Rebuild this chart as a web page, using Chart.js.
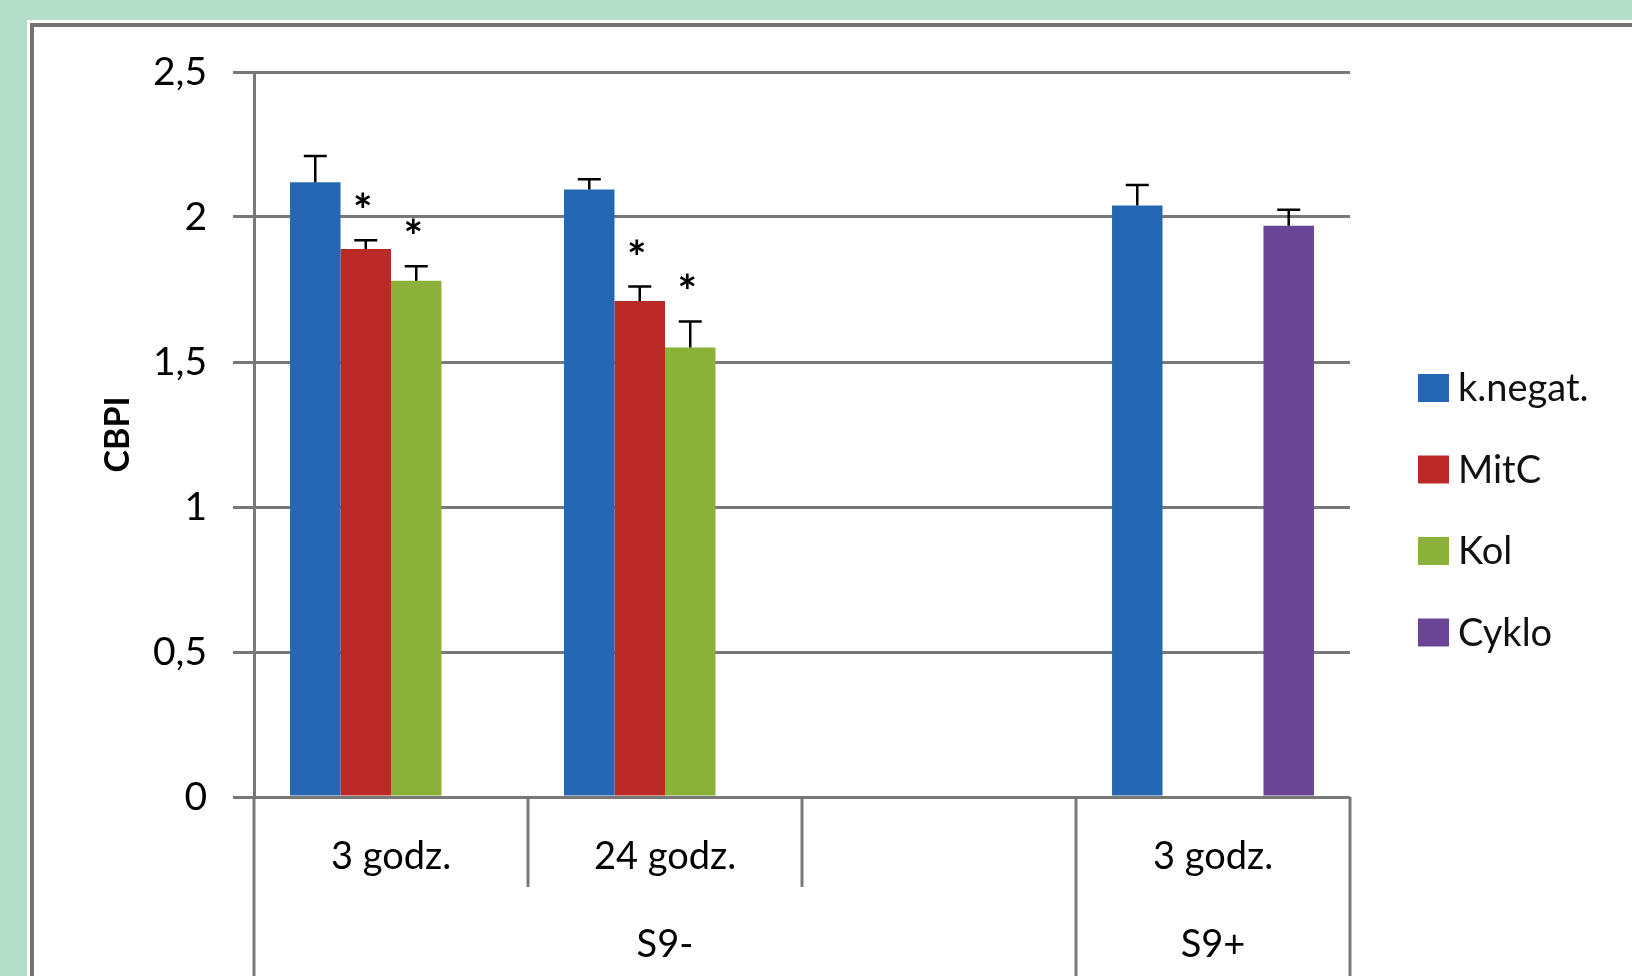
<!DOCTYPE html>
<html>
<head>
<meta charset="utf-8">
<script src="https://cdn.jsdelivr.net/npm/chart.js@4.4.1/dist/chart.umd.min.js"></script>
<style>
  html, body { margin: 0; padding: 0; background: #b4dec9; overflow: hidden; }
  #c { display: block; }
</style>
</head>
<body>
<canvas id="c" width="1632" height="976"></canvas>
<script>
// Categories (lower axis row) and their groups (upper axis row)
const categories = ['3 godz.', '24 godz.', '', '3 godz.'];
const groupLabels = ['S9-', 'S9+'];
const groupSpans = [3, 1];

// Series: mean CBPI and upper error
const seriesNames = ['k.negat.', 'MitC', 'Kol', 'Cyklo'];
const kNegat    = [2.12, 2.095, null, 2.04];
const kNegatErr = [0.09, 0.035, null, 0.07];
const mitC      = [1.89, 1.71, null, null];
const mitCErr   = [0.03, 0.05, null, null];
const kol       = [1.78, 1.55, null, null];
const kolErr    = [0.05, 0.09, null, null];
const cyklo     = [null, null, null, 1.97];
const cykloErr  = [null, null, null, 0.055];

// Significance markers (*)
const kNegatSig = [false, false, false, false];
const mitCSig   = [true, true, false, false];
const kolSig    = [true, true, false, false];
const cykloSig  = [false, false, false, false];

// Value axis
const yTicks = [0, 0.5, 1, 1.5, 2, 2.5];
const yTickLabels = ['0', '0,5', '1', '1,5', '2', '2,5'];

const FONT = 'Lato';
const LINE = '#787878';

const seriesColors = ['#2667b3', '#bb2a26', '#8cb13a', '#6a4495'];
const seriesValues = [kNegat, mitC, kol, cyklo];
const seriesErrors = [kNegatErr, mitCErr, kolErr, cykloErr];
const seriesSig = [kNegatSig, mitCSig, kolSig, cykloSig];

const datasets = seriesNames.map((name, i) => ({
  label: name,
  data: seriesValues[i],
  errors: seriesErrors[i],
  significant: seriesSig[i],
  backgroundColor: seriesColors[i],
  borderWidth: 0,
  categoryPercentage: 0.737,
  barPercentage: 1.0
}));

// Page frame: green band, white panel with a grey border
const framePlugin = {
  id: 'frame',
  beforeDraw(chart) {
    const ctx = chart.ctx;
    ctx.save();
    ctx.fillStyle = '#b4dec9';
    ctx.fillRect(0, 0, chart.width, chart.height);
    ctx.fillStyle = '#ffffff';
    ctx.fillRect(27, 20, chart.width, chart.height);
    ctx.strokeStyle = '#747474';
    ctx.lineWidth = 4;
    ctx.strokeRect(32, 25, chart.width + 40, chart.height + 40);
    ctx.restore();
  }
};

// Upper error bars and significance asterisks
const errorBarPlugin = {
  id: 'errorBars',
  afterDatasetsDraw(chart) {
    const ctx = chart.ctx;
    const y = chart.scales.y;
    ctx.save();
    chart.data.datasets.forEach((ds, di) => {
      const meta = chart.getDatasetMeta(di);
      meta.data.forEach((bar, i) => {
        const v = ds.data[i];
        const e = ds.errors[i];
        if (v == null || e == null) return;
        const x = bar.x;
        const y0 = y.getPixelForValue(v);
        const y1 = y.getPixelForValue(v + e);
        ctx.strokeStyle = '#000000';
        ctx.lineWidth = 2.5;
        ctx.beginPath();
        ctx.moveTo(x, y0);
        ctx.lineTo(x, y1);
        ctx.moveTo(x - 11.5, y1);
        ctx.lineTo(x + 11.5, y1);
        ctx.stroke();
        if (ds.significant[i]) {
          ctx.font = 'bold 46px ' + FONT;
          ctx.fillStyle = '#000000';
          ctx.textAlign = 'center';
          ctx.textBaseline = 'alphabetic';
          const m = ctx.measureText('*');
          const cy = y1 - 40;
          const base = cy + (m.actualBoundingBoxAscent - m.actualBoundingBoxDescent) / 2;
          ctx.fillText('*', x - 3, base);
        }
      });
    });
    ctx.restore();
  }
};

// Two-row category axis with separators
const categoryAxisPlugin = {
  id: 'categoryAxis',
  afterDraw(chart) {
    const ctx = chart.ctx;
    const xs = chart.scales.x;
    const area = chart.chartArea;
    const n = categories.length;
    const centers = categories.map((_, i) => xs.getPixelForValue(i));
    const bounds = [area.left];
    for (let i = 0; i < n - 1; i++) bounds.push((centers[i] + centers[i + 1]) / 2);
    bounds.push(area.right);

    const groupEdges = new Set([0]);
    let acc = 0;
    groupSpans.forEach(s => { acc += s; groupEdges.add(acc); });

    ctx.save();
    ctx.strokeStyle = LINE;
    ctx.lineWidth = 3;
    bounds.forEach((bx, k) => {
      const long = groupEdges.has(k);
      ctx.beginPath();
      ctx.moveTo(bx, area.bottom);
      ctx.lineTo(bx, long ? chart.height : area.bottom + 90);
      ctx.stroke();
    });

    ctx.fillStyle = '#000000';
    ctx.font = '38px ' + FONT;
    ctx.textAlign = 'center';
    ctx.textBaseline = 'middle';
    categories.forEach((lab, i) => {
      if (lab) ctx.fillText(lab, (bounds[i] + bounds[i + 1]) / 2, area.bottom + 60);
    });
    let start = 0;
    groupLabels.forEach((g, gi) => {
      const end = start + groupSpans[gi];
      ctx.fillText(g, (bounds[start] + bounds[end]) / 2, area.bottom + 148);
      start = end;
    });
    ctx.restore();
  }
};

// Legend drawn to the right of the plot
const sideLegendPlugin = {
  id: 'sideLegend',
  afterDraw(chart) {
    const ctx = chart.ctx;
    ctx.save();
    ctx.font = '38px ' + FONT;
    ctx.textBaseline = 'middle';
    ctx.textAlign = 'left';
    chart.data.datasets.forEach((ds, i) => {
      const cy = 388 + i * 81.5;
      ctx.fillStyle = ds.backgroundColor;
      ctx.fillRect(1418, cy - 14, 31, 28);
      ctx.fillStyle = '#111111';
      ctx.fillText(ds.label, 1458, cy + 1);
    });
    ctx.restore();
  }
};

new Chart(document.getElementById('c'), {
  type: 'bar',
  data: { labels: categories, datasets },
  options: {
    responsive: false,
    devicePixelRatio: 1,
    animation: false,
    layout: { padding: { left: 90, top: 72, right: 282, bottom: 179 } },
    plugins: {
      legend: { display: false },
      tooltip: { enabled: false }
    },
    scales: {
      x: { display: false, offset: true },
      y: {
        min: 0,
        max: 2.5,
        afterBuildTicks(scale) { scale.ticks = yTicks.map(v => ({ value: v })); },
        afterFit(scale) { scale.width = 164; },
        ticks: {
          padding: 26,
          color: '#000000',
          font: { family: FONT, size: 39 },
          callback(value) { return yTickLabels[yTicks.indexOf(value)]; }
        },
        grid: { color: LINE, lineWidth: 3, tickLength: 21, drawTicks: true },
        border: { display: true, color: LINE, width: 3 },
        title: {
          display: true,
          text: 'CBPI',
          color: '#000000',
          font: { family: FONT, size: 34, weight: 'bold' },
          padding: { top: 8, bottom: 0 }
        }
      }
    }
  },
  plugins: [framePlugin, errorBarPlugin, categoryAxisPlugin, sideLegendPlugin]
});
</script>
</body>
</html>
